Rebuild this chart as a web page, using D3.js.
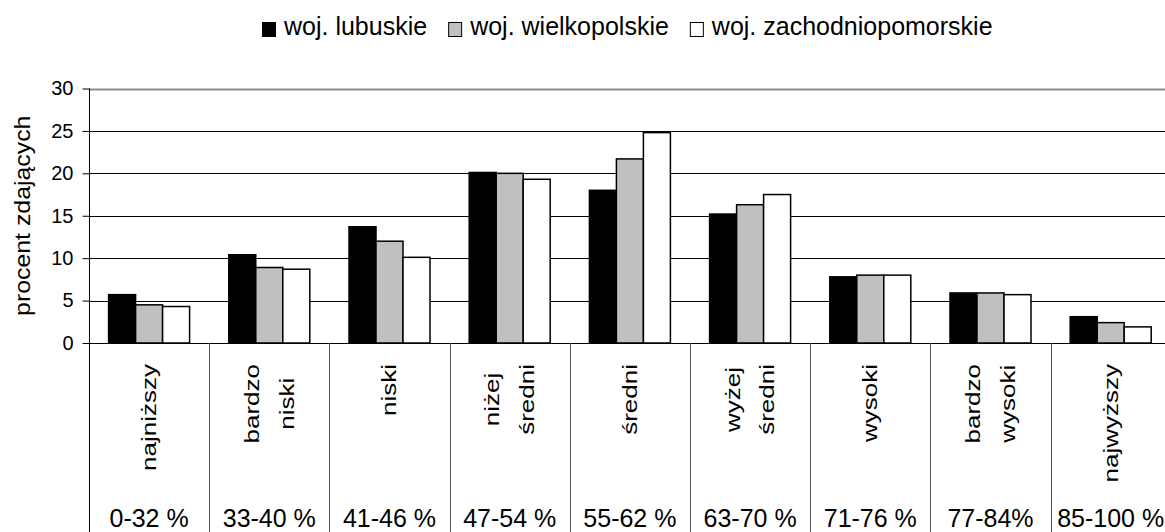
<!DOCTYPE html>
<html>
<head>
<meta charset="utf-8">
<script src="https://cdn.jsdelivr.net/npm/d3@7"></script>
<style>
    body { margin: 0; background: #fff; }
    svg { display: block; font-family: "Liberation Sans", Arial, sans-serif; }
</style>
</head>
<body>
<script>
// dane
const categories = ["najniższy", "bardzo niski", "niski", "niżej średni", "średni",
                    "wyżej średni", "wysoki", "bardzo wysoki", "najwyższy"];
const ranges = ["0-32 %", "33-40 %", "41-46 %", "47-54 %", "55-62 %",
                "63-70 %", "71-76 %", "77-84%", "85-100 %"];
const seriesNames = ["woj. lubuskie", "woj. wielkopolskie", "woj. zachodniopomorskie"];
const lubuskie = [5.7, 10.4, 13.7, 20.1, 18.0, 15.2, 7.8, 5.9, 3.1];
const wielkopolskie = [4.5, 8.9, 12.0, 20.0, 21.7, 16.3, 8.0, 5.9, 2.4];
const zachodniopomorskie = [4.3, 8.7, 10.1, 19.3, 24.8, 17.5, 8.0, 5.7, 1.9];
const yTicks = [0, 5, 10, 15, 20, 25, 30];
const fills = ["#000000", "#c0c0c0", "#ffffff"];

const width = 1165, height = 532;
const plotLeft = 89, plotTop = 88.5, plotBase = 343, catWidth = 120.2;
const groupWidth = 81;
const labelTop = 364, lineGap = 35, labelStretch = 1.3;

const seriesValues = [lubuskie, wielkopolskie, zachodniopomorskie];
const rows = categories.map((c, i) => ({
    category: c,
    values: seriesNames.map((s, j) => ({ key: s, value: seriesValues[j][i] }))
}));

const svg = d3.select("body").append("svg")
    .attr("width", width)
    .attr("height", height);

const x = d3.scaleBand()
    .domain(categories)
    .range([plotLeft, plotLeft + categories.length * catWidth]);

const xInner = d3.scaleBand()
    .domain(seriesNames)
    .range([0, groupWidth]);

const y = d3.scaleLinear()
    .domain([0, 30])
    .range([plotBase, plotTop]);

// linie siatki
svg.append("g")
    .selectAll("line")
    .data(yTicks.filter(t => t > 0))
    .join("line")
    .attr("x1", plotLeft)
    .attr("x2", width)
    .attr("y1", d => Math.round(y(d)) + 0.5)
    .attr("y2", d => Math.round(y(d)) + 0.5)
    .attr("stroke", d => d === 30 ? "#8c8c8c" : "#000")
    .attr("stroke-width", d => d === 30 ? 2 : 1);

// oś Y
const yAxis = svg.append("g")
    .attr("transform", "translate(" + (plotLeft + 0.5) + ",0)")
    .call(d3.axisLeft(y).tickValues(yTicks).tickSize(7).tickPadding(9));
yAxis.select(".domain").remove();
yAxis.selectAll(".tick line").attr("stroke", "#000");
yAxis.selectAll(".tick text")
    .attr("font-size", 20)
    .attr("fill", "#000")
    .attr("font-family", "'Liberation Sans', Arial, sans-serif");

svg.append("line")
    .attr("x1", plotLeft + 0.5).attr("x2", plotLeft + 0.5)
    .attr("y1", plotTop).attr("y2", height)
    .attr("stroke", "#000");

// słupki
const groups = svg.append("g")
    .selectAll("g")
    .data(rows)
    .join("g")
    .attr("transform", d => "translate(" + (x(d.category) + (x.bandwidth() - groupWidth) / 2) + ",0)");

groups.selectAll("rect")
    .data(d => d.values)
    .join("rect")
    .attr("x", d => xInner(d.key))
    .attr("y", d => y(d.value))
    .attr("width", xInner.bandwidth())
    .attr("height", d => y(0) - y(d.value))
    .attr("fill", (d, i) => fills[i])
    .attr("stroke", "#000")
    .attr("stroke-width", 1.5);

// oś X i linie podziału
svg.append("line")
    .attr("x1", plotLeft).attr("x2", width)
    .attr("y1", plotBase + 0.5).attr("y2", plotBase + 0.5)
    .attr("stroke", "#000");

svg.append("g")
    .selectAll("line")
    .data(categories)
    .join("line")
    .attr("x1", d => Math.round(x(d) + x.step()) + 0.5)
    .attr("x2", d => Math.round(x(d) + x.step()) + 0.5)
    .attr("y1", plotBase)
    .attr("y2", height)
    .attr("stroke", "#555");

// etykiety kategorii (obrócone, wydłużone jak w oryginale)
const catLabels = svg.append("g")
    .selectAll("g")
    .data(categories)
    .join("g");

catLabels.each(function (d) {
    const g = d3.select(this);
    const lines = d.split(" ");
    lines.forEach((line, i) => {
        g.append("text")
            .attr("x", 0)
            .attr("y", (i - (lines.length - 1) / 2) * lineGap)
            .attr("text-anchor", "middle")
            .attr("dominant-baseline", "central")
            .attr("font-size", 20)
            .attr("fill", "#000")
            .text(line);
    });
    const maxLen = d3.max(g.selectAll("text").nodes(), n => n.getComputedTextLength()) * labelStretch;
    const cx = x(d) + x.bandwidth() / 2;
    g.attr("transform", "translate(" + cx + "," + (labelTop + maxLen / 2) + ") rotate(-90) scale(" + labelStretch + ",1)");
});

// przedziały procentowe
svg.append("g")
    .selectAll("text")
    .data(categories)
    .join("text")
    .attr("x", d => x(d) + x.bandwidth() / 2)
    .attr("y", 527)
    .attr("text-anchor", "middle")
    .attr("font-size", 25)
    .attr("fill", "#000")
    .text((d, i) => ranges[i]);

// tytuł osi Y
svg.append("text")
    .attr("transform", "translate(23," + ((plotBase + plotTop) / 2) + ") rotate(-90) scale(1.13,1)")
    .attr("text-anchor", "middle")
    .attr("dominant-baseline", "central")
    .attr("font-size", 22)
    .attr("fill", "#000")
    .text("procent zdających");

// legenda
const legend = svg.append("g");
let lx = 262;
seriesNames.forEach((name, i) => {
    legend.append("rect")
        .attr("x", lx + 0.5)
        .attr("y", 22.5)
        .attr("width", 13)
        .attr("height", 14)
        .attr("fill", fills[i])
        .attr("stroke", "#000")
        .attr("stroke-width", 1);
    const t = legend.append("text")
        .attr("x", lx + 22)
        .attr("y", 35)
        .attr("font-size", 25)
        .attr("fill", "#000")
        .text(name);
    lx += 22 + t.node().getComputedTextLength() + 21;
});
</script>
</body>
</html>
